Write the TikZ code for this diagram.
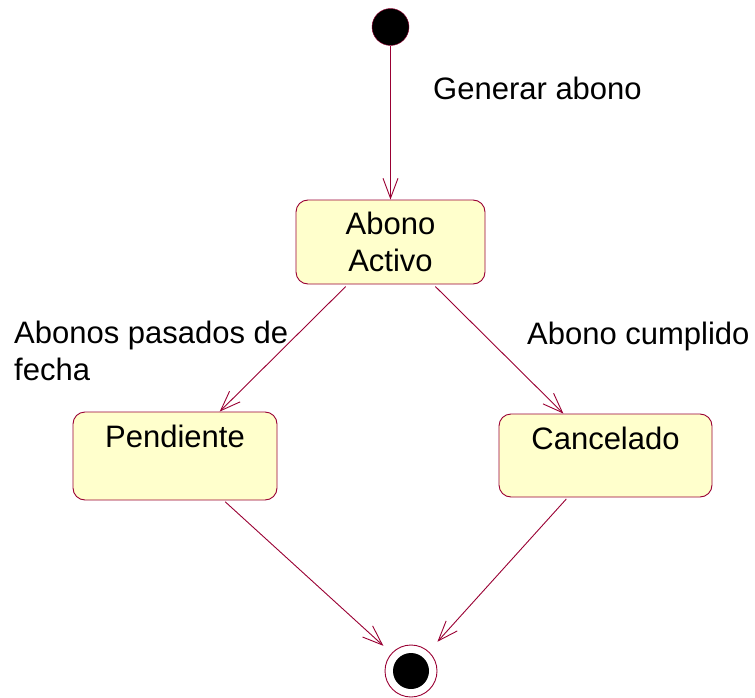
\documentclass[tikz,border=0pt]{standalone}
\usepackage{fontspec}
\setmainfont{Liberation Sans}
\usepackage{xcolor}
\usepackage{tikz}
\usetikzlibrary{arrows.meta,positioning}

\definecolor{umlline}{RGB}{153,0,51}
\definecolor{umlfill}{RGB}{255,255,204}

\begin{document}
\begin{tikzpicture}[
    x=1pt, y=-1pt,
    font=\fontsize{31}{36.5}\selectfont,
    statebox/.style={draw=umlline, line width=0.9pt, fill=umlfill, rounded corners=12pt, inner xsep=0pt, inner ysep=0pt},
    startdot/.style={circle, draw=umlline, fill=black, minimum size=37pt, inner sep=0pt},
    enddot/.style={circle, draw=umlline, line width=0.9pt, minimum size=52pt, inner sep=0pt,
        path picture={\fill[black] (path picture bounding box.center) circle (18pt);}},
    lbl/.style={inner sep=0pt, align=left},
    arrow/.style={-{Straight Barb[length=20pt, width=15pt]}, draw=umlline, line width=0.9pt}
]
\useasboundingbox (0,0) rectangle (755,698);

\node[startdot] (start) at (390.5,27) {};
\node[statebox, minimum width=189pt, minimum height=84pt, align=center] (active) at (390.5,242) {Abono\\Activo};
\node[statebox, minimum width=204pt, text height=35pt, text depth=53pt] (pend) at (175,456) {Pendiente};
\node[statebox, minimum width=213pt, text height=35pt, text depth=48pt] (canc) at (605.5,455.5) {Cancelado};
\node[enddot] (stop) at (411,671) {};

\node[lbl, anchor=west] (lgen) at (433,88) {Generar abono};
\node[lbl, anchor=north west] (lpas) at (14,321) {Abonos pasados de\\fecha};
\node[lbl, anchor=base west] (lcum) at (527,344) {Abono cumplido};

\draw[arrow] (start) -- (start |- active.north);
\draw[arrow, shorten <=3pt] (active) -- (pend);
\draw[arrow, shorten <=3pt] (active) -- (canc);
\draw[arrow, shorten <=2pt, shorten >=11pt] (pend) -- (stop);
\draw[arrow, shorten <=2pt, shorten >=13pt] (canc) -- (stop);
\end{tikzpicture}
\end{document}
